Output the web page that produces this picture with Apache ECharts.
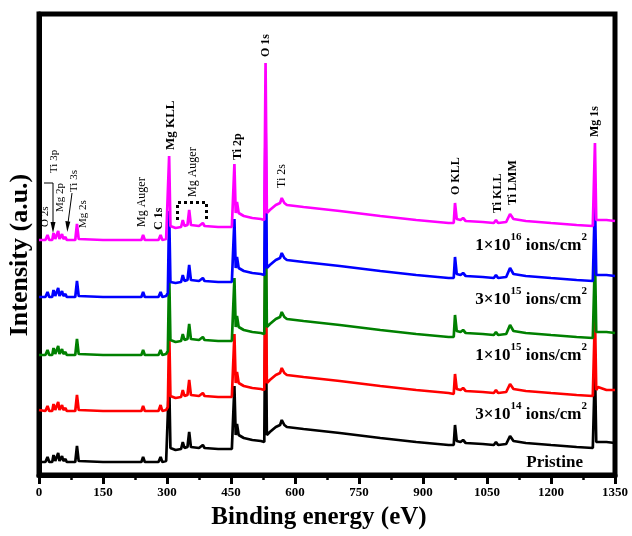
<!DOCTYPE html>
<html><head><meta charset="utf-8">
<script src="https://cdn.jsdelivr.net/npm/echarts@6/dist/echarts.min.js"></script>
<style>html,body{margin:0;padding:0;background:#fff}#c{width:632px;height:536px}</style>
</head><body><div id="c"></div>
<script>
// Binding energy (eV) sample points, shared by all spectra
const bindingEnergy = [0,15,20,24,31,34,38,42,45,48,52,54,57,60,62,65,85,89,93,150,240,244,248,280,285,289,298,302,305,308,320,333,337,341,348,352,356,375,384,388,420,452,455,458,461,464,468,480,500,520,528,531,534,541,555,565,569,575,581,620,705,800,884,960,972,975,979,988,994,1000,1040,1066,1071,1076,1095,1104,1112,1141,1200,1260,1298,1301,1303,1306,1310,1330,1350];
// Intensities (a.u., stacked offsets as in the figure)
const pristine = [13,13,18,13,13,20,14,14,22,14, 14,19,14,14,16,13,13,29,14,13, 13,18,13,13,18,13,14,16,97,27, 25,26,33,27,28,43,28,27,30,27, 26,26,28,89,40,51,40,37,35,34, 33,190,40,43,48,50,55,50,48,46, 42,37,33,30,30,50,34,33,35,32, 31,30,33,30,31,39,34,32,30,28, 27,28,109,33,35,33,32];
const dose3e14 = [65,64,69,64,64,71,65,65,73,65, 65,70,65,65,67,64,64,80,65,64, 64,69,64,64,70,64,65,68,149,79, 77,78,85,79,80,95,80,79,82,79, 78,78,80,141,92,103,92,89,87,86, 85,242,92,95,100,102,107,102,100,98, 94,89,85,82,81,101,86,85,87,84, 83,82,85,82,83,91,86,84,82,80, 79,80,161,85,88,85,85];
const dose1e15 = [120,120,125,120,120,127,121,121,129,121, 121,126,121,121,123,120,120,136,121,120, 120,125,120,120,125,120,121,124,205,135, 133,134,141,135,136,151,136,135,138,135, 134,134,136,197,148,159,148,145,143,142, 141,298,148,151,156,158,163,158,156,154, 150,145,141,138,138,160,144,143,145,142, 141,140,143,140,141,150,144,142,140,138, 137,138,219,143,145,143,142];
const dose3e15 = [178,178,183,178,178,185,179,179,187,179, 179,184,179,179,181,178,178,194,179,178, 178,183,178,178,183,178,179,182,264,193, 192,193,200,194,195,210,195,194,197,194, 193,193,195,256,207,218,207,204,202,201, 200,357,207,210,215,217,222,217,215,213, 209,204,200,197,197,218,201,200,202,199, 198,197,200,197,198,207,201,199,197,195, 194,195,276,200,202,200,199];
const dose1e16 = [235,235,240,235,235,242,236,236,244,236, 236,241,236,236,238,235,235,251,236,235, 235,240,235,235,240,235,236,238,319,249, 247,248,255,249,250,265,250,249,252,249, 248,248,250,311,262,273,262,259,257,256, 255,412,262,265,270,272,277,272,270,268, 264,259,255,252,252,272,256,255,257,254, 253,252,255,252,253,261,256,254,252,250, 249,250,332,255,257,255,254];
const xTicks = [0,150,300,450,600,750,900,1050,1200,1350];
const seriesNames = ['Pristine','3×10^14','1×10^15','3×10^15','1×10^16'];
const seriesValues = [pristine, dose3e14, dose1e15, dose3e15, dose1e16];
const seriesColors = ['#000000','#ff0000','#008000','#0000ff','#ff00ff'];
const peakLabels = ['O 2s','Ti 3p','Mg 2p','Ti 3s','Mg 2s','Mg Auger','C 1s','Mg KLL','Mg Auger','Ti 2p','O 1s','Ti 2s','O KLL','Ti KLL','Ti LMM','Mg 1s'];
const sampleLabels = ['{m|1×10}{s|16}{m| ions/cm}{s|2}','{m|3×10}{s|15}{m| ions/cm}{s|2}','{m|1×10}{s|15}{m| ions/cm}{s|2}','{m|3×10}{s|14}{m| ions/cm}{s|2}','{m|Pristine}'];

const FF = '"Liberation Serif","Times New Roman",serif';
const chart = echarts.init(document.getElementById('c'));

// label placement (pixels): [x center, bottom y, size, weight]
const peakPos = [[45.5,227,11,'normal'],[54,173,11,'normal'],[60.5,212,11,'normal'],[74.5,192,11,'normal'],[83.5,228,11,'normal'],[142,227,12,'normal'],[159,230,12,'bold'],[171,150,13,'bold'],[193,197,12,'normal'],[237.5,160,12,'bold'],[265.5,57,12,'bold'],[282,188,12,'normal'],[456,195,12,'bold'],[497.5,213,12,'bold'],[512.5,205,12,'bold'],[594.5,137,12,'bold']];
const samplePos = [[587,243],[587,297],[587,353],[587,412],[583,460]];

const graphics = [];
peakLabels.forEach((t,i)=>{
  const p = peakPos[i];
  graphics.push({type:'text', x:p[0], y:p[1], rotation:Math.PI/2, z:100,
    style:{text:t, x:0, y:0, align:'left', verticalAlign:'middle', fill:'#000', font: p[3]+' '+p[2]+'px '+FF}});
});
sampleLabels.forEach((t,i)=>{
  const p = samplePos[i];
  graphics.push({type:'text', x:p[0], y:p[1], z:100,
    style:{text:t, align:'right', verticalAlign:'middle', fill:'#000',
      rich:{m:{fontFamily:FF, fontWeight:'bold', fontSize:17, lineHeight:22, verticalAlign:'bottom', fill:'#000'},
            s:{fontFamily:FF, fontWeight:'bold', fontSize:11, lineHeight:11, verticalAlign:'top', fill:'#000'}}}});
});
// arrows and leader lines
graphics.push({type:'polyline', z:100, shape:{points:[[44,183],[53,183],[53,224]]}, style:{stroke:'#000', lineWidth:1, fill:null}});
graphics.push({type:'polygon', z:100, shape:{points:[[50.5,222],[55.5,222],[53,233]]}, style:{fill:'#000'}});
graphics.push({type:'line', z:100, shape:{x1:72,y1:193,x2:68,y2:223}, style:{stroke:'#000', lineWidth:1}});
graphics.push({type:'polygon', z:100, shape:{points:[[65.3,221],[70.3,221.8],[67.3,232]]}, style:{fill:'#000'}});
// dotted bracket
graphics.push({type:'polyline', z:100, shape:{points:[[177.5,220],[177.5,202.5],[206.5,202.5],[206.5,219]]}, style:{stroke:'#000', lineWidth:3, lineDash:[3,3], fill:null}});
// axis titles
graphics.push({type:'text', x:319, y:518, z:100, style:{text:'Binding energy (eV)', align:'center', verticalAlign:'middle', fill:'#000', font:'bold 25px '+FF}});
graphics.push({type:'text', x:20, y:255, rotation:Math.PI/2, z:100, style:{text:'Intensity (a.u.)', align:'center', verticalAlign:'middle', fill:'#000', font:'bold 26px '+FF}});

chart.setOption({
  animation:false,
  backgroundColor:'#fff',
  grid:{left:39, right:17, top:14, bottom:61, show:true, borderColor:'#000', borderWidth:5, backgroundColor:'transparent'},
  xAxis:{type:'value', min:0, max:1350, interval:150,
    axisLine:{show:true, lineStyle:{color:'#000', width:5}},
    axisTick:{show:true, length:9, lineStyle:{color:'#000', width:3}},
    minorTick:{show:true, splitNumber:2, length:5, lineStyle:{color:'#000', width:2.5}},
    splitLine:{show:false},
    axisLabel:{color:'#000', fontFamily:FF, fontWeight:'bold', fontSize:13, margin:11,
      formatter:v=> xTicks.indexOf(v)>=0 ? String(v) : ''}},
  yAxis:{type:'value', min:0, max:461, axisLine:{show:true, lineStyle:{color:'#000', width:5}},
    axisTick:{show:false}, axisLabel:{show:false}, splitLine:{show:false}},
  series: seriesValues.map((vals,k)=>({
    name:seriesNames[k], type:'line', showSymbol:false, symbol:'none',
    data: bindingEnergy.map((e,i)=>[e, vals[i]]),
    lineStyle:{color:seriesColors[k], width:2.7}, itemStyle:{color:seriesColors[k]}, z:2+k
  })),
  graphic: graphics
});
</script></body></html>
